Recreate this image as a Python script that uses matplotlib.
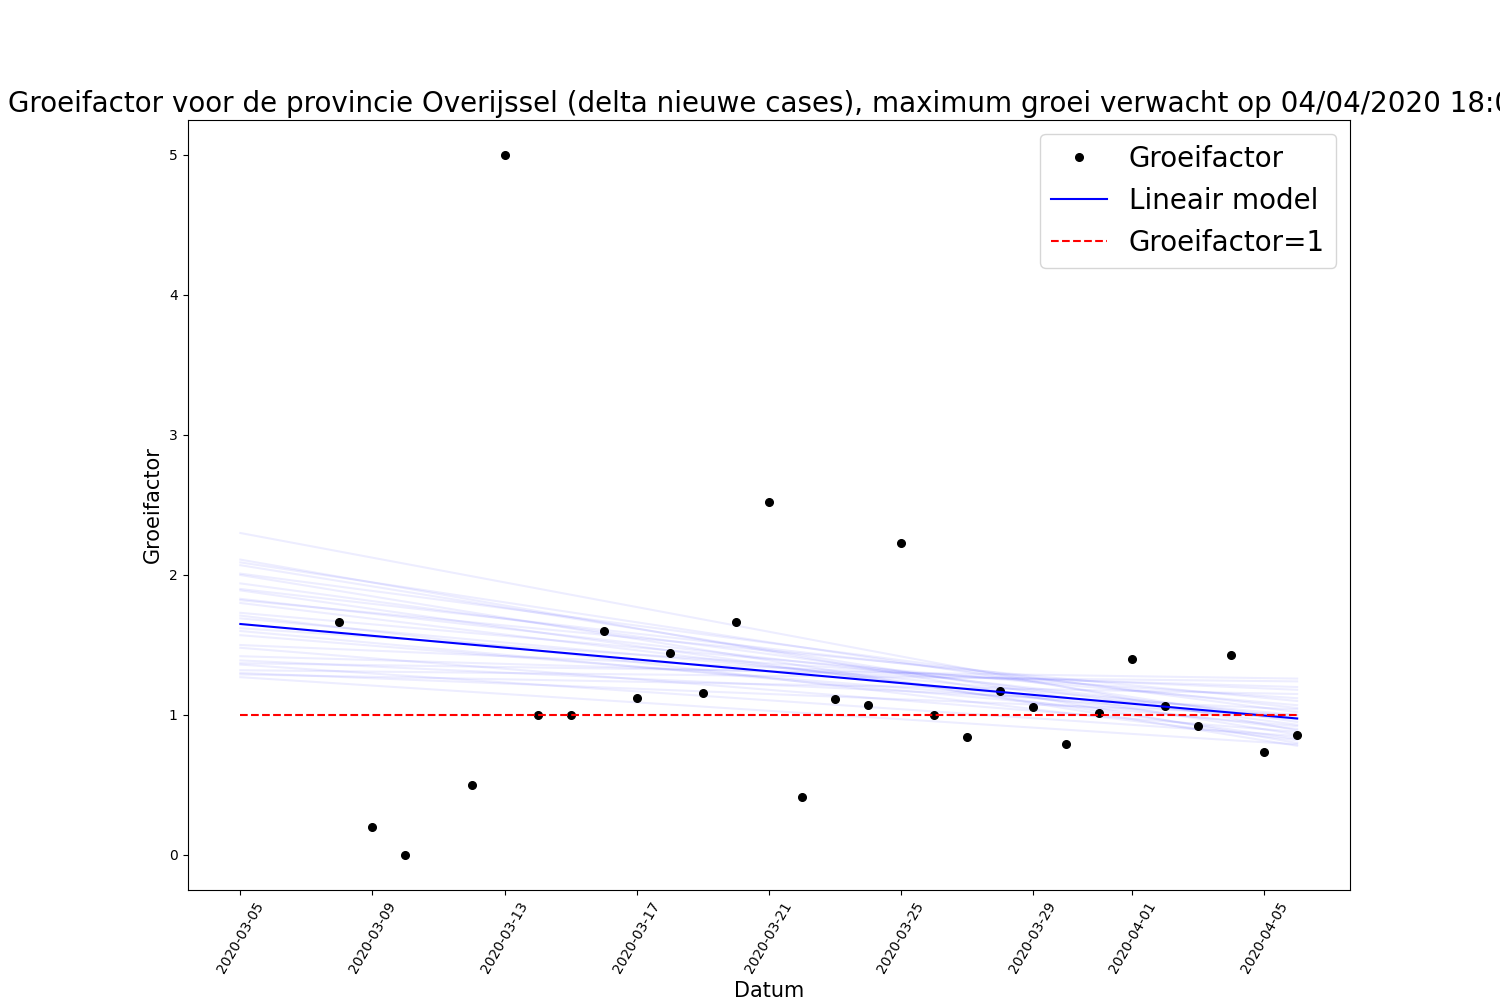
import datetime as dt
import matplotlib
matplotlib.use("Agg")
import matplotlib.pyplot as plt

# Observed growth factor per date (2020-03-11 missing)
dates = ["2020-03-08", "2020-03-09", "2020-03-10", "2020-03-12", "2020-03-13",
         "2020-03-14", "2020-03-15", "2020-03-16", "2020-03-17", "2020-03-18",
         "2020-03-19", "2020-03-20", "2020-03-21", "2020-03-22", "2020-03-23",
         "2020-03-24", "2020-03-25", "2020-03-26", "2020-03-27", "2020-03-28",
         "2020-03-29", "2020-03-30", "2020-03-31", "2020-04-01", "2020-04-02",
         "2020-04-03", "2020-04-04", "2020-04-05", "2020-04-06"]
groeifactor = [1.664, 0.2, 0.0, 0.5, 5.0,
               1.0, 1.0, 1.6, 1.121, 1.443,
               1.157, 1.664, 2.521, 0.414, 1.114,
               1.071, 2.229, 1.0, 0.843, 1.171,
               1.057, 0.793, 1.014, 1.4, 1.064,
               0.921, 1.429, 0.736, 0.857]

# Model span
model_start = "2020-03-05"
model_end = "2020-04-06"
model_values = [1.65, 0.975]

# Resampled model fits: values at model_start and model_end
sample_start = [2.30, 2.11, 2.09, 2.07, 2.01, 2.00, 1.94, 1.90, 1.89, 1.83,
                1.82, 1.80, 1.73, 1.71, 1.69, 1.62, 1.60, 1.57, 1.50, 1.48,
                1.42, 1.39, 1.37, 1.36, 1.32, 1.30, 1.29, 1.27]
sample_end = [0.89, 0.80, 0.95, 0.86, 1.02, 0.78, 0.93, 1.05, 0.83, 0.98,
              1.10, 0.90, 1.07, 0.82, 1.00, 1.12, 0.92, 0.97, 1.18, 0.88,
              1.20, 1.04, 1.26, 0.85, 1.24, 1.00, 1.15, 0.79]

title = ("Groeifactor voor de provincie Overijssel (delta nieuwe cases), "
         "maximum groei verwacht op 04/04/2020 18:00")

def d(s):
    return dt.datetime.strptime(s, "%Y-%m-%d")

x = [d(s) for s in dates]
xm = [d(model_start), d(model_end)]

fig, ax = plt.subplots(figsize=(15, 10), dpi=100)

for s, e in zip(sample_start, sample_end):
    ax.plot(xm, [s, e], color="blue", alpha=0.07, lw=1.5)

ax.plot(x, groeifactor, "k.", markersize=11, label="Groeifactor")
ax.plot(xm, model_values, color="blue", lw=1.5, label="Lineair model")
ax.plot(xm, [1, 1], "r--", lw=1.5, label="Groeifactor=1")

ax.set_title(title, fontsize=20)
ax.set_xlabel("Datum", fontsize=15)
ax.set_ylabel("Groeifactor", fontsize=15)
ax.tick_params(axis="x", labelrotation=60)
ax.legend(fontsize=20, loc="upper right")

fig.savefig("out.png", dpi=100)
